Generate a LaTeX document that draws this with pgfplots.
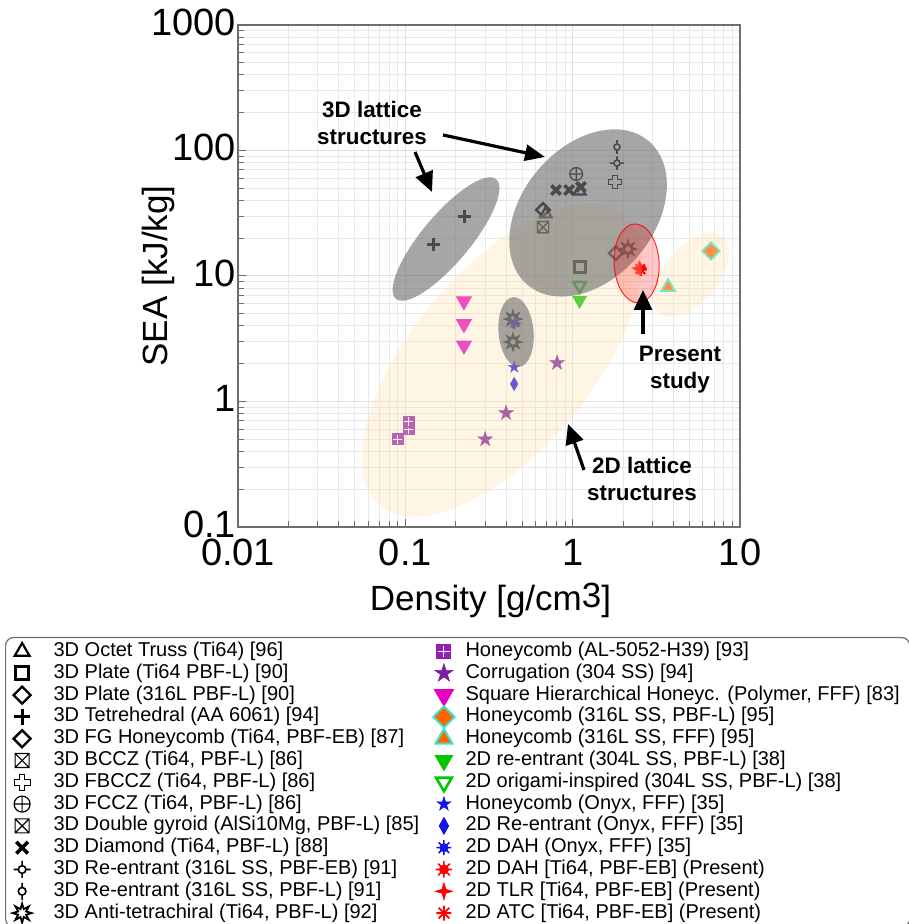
\documentclass[border=0pt]{standalone}
\usepackage{pgfplots}
\pgfplotsset{compat=1.18}
\usepackage{fontspec}
\setmainfont{Liberation Sans}
\usetikzlibrary{arrows.meta,plotmarks}

\definecolor{purpleA}{RGB}{150,30,180}
\definecolor{corrP}{RGB}{125,30,160}
\definecolor{magC}{RGB}{230,0,200}
\definecolor{orangeC}{RGB}{255,102,0}
\definecolor{turqC}{RGB}{64,224,208}
\definecolor{greenC}{RGB}{0,200,0}
\definecolor{blueC}{RGB}{20,20,230}
\definecolor{redC}{RGB}{255,0,0}
\definecolor{beigeC}{RGB}{255,225,180}
\definecolor{ellGray}{RGB}{116,116,116}
\definecolor{frameC}{RGB}{110,110,110}

\newcommand{\mpt}[2]{\pgfqpoint{#1\pgfplotmarksize}{#2\pgfplotmarksize}}

\pgfdeclareplotmark{boxx}{%
  \pgfpathmoveto{\mpt{-1}{-1}}\pgfpathlineto{\mpt{1}{-1}}\pgfpathlineto{\mpt{1}{1}}\pgfpathlineto{\mpt{-1}{1}}\pgfpathclose
  \pgfpathmoveto{\mpt{-1}{-1}}\pgfpathlineto{\mpt{1}{1}}%
  \pgfpathmoveto{\mpt{-1}{1}}\pgfpathlineto{\mpt{1}{-1}}%
  \pgfusepathqstroke}
\pgfdeclareplotmark{crossout}{%
  \pgfpathmoveto{\mpt{-0.35}{1}}\pgfpathlineto{\mpt{0.35}{1}}\pgfpathlineto{\mpt{0.35}{0.35}}%
  \pgfpathlineto{\mpt{1}{0.35}}\pgfpathlineto{\mpt{1}{-0.35}}\pgfpathlineto{\mpt{0.35}{-0.35}}%
  \pgfpathlineto{\mpt{0.35}{-1}}\pgfpathlineto{\mpt{-0.35}{-1}}\pgfpathlineto{\mpt{-0.35}{-0.35}}%
  \pgfpathlineto{\mpt{-1}{-0.35}}\pgfpathlineto{\mpt{-1}{0.35}}\pgfpathlineto{\mpt{-0.35}{0.35}}\pgfpathclose
  \pgfusepathqstroke}
\pgfdeclareplotmark{reEB}{%
  \pgfpathellipse{\pgfpointorigin}{\mpt{0.45}{0}}{\mpt{0}{0.45}}%
  \pgfpathmoveto{\mpt{0.45}{0}}\pgfpathlineto{\mpt{1}{0}}%
  \pgfpathmoveto{\mpt{-0.45}{0}}\pgfpathlineto{\mpt{-1}{0}}%
  \pgfpathmoveto{\mpt{0}{0.45}}\pgfpathlineto{\mpt{0}{1}}%
  \pgfpathmoveto{\mpt{0}{-0.45}}\pgfpathlineto{\mpt{0}{-1}}%
  \pgfusepathqstroke}
\pgfdeclareplotmark{reL}{%
  \pgfpathellipse{\pgfpointorigin}{\mpt{0.45}{0}}{\mpt{0}{0.45}}%
  \pgfpathmoveto{\mpt{0}{0.45}}\pgfpathlineto{\mpt{0}{1}}%
  \pgfpathmoveto{\mpt{0}{-0.45}}\pgfpathlineto{\mpt{0}{-1}}%
  \pgfusepathqstroke}
\pgfdeclareplotmark{burst8}{%
  \pgfpathmoveto{\mpt{1}{0}}\pgfpathlineto{\mpt{0.4157}{0.1722}}%
  \pgfpathlineto{\mpt{0.7071}{0.7071}}\pgfpathlineto{\mpt{0.1722}{0.4157}}%
  \pgfpathlineto{\mpt{0}{1}}\pgfpathlineto{\mpt{-0.1722}{0.4157}}%
  \pgfpathlineto{\mpt{-0.7071}{0.7071}}\pgfpathlineto{\mpt{-0.4157}{0.1722}}%
  \pgfpathlineto{\mpt{-1}{0}}\pgfpathlineto{\mpt{-0.4157}{-0.1722}}%
  \pgfpathlineto{\mpt{-0.7071}{-0.7071}}\pgfpathlineto{\mpt{-0.1722}{-0.4157}}%
  \pgfpathlineto{\mpt{0}{-1}}\pgfpathlineto{\mpt{0.1722}{-0.4157}}%
  \pgfpathlineto{\mpt{0.7071}{-0.7071}}\pgfpathlineto{\mpt{0.4157}{-0.1722}}\pgfpathclose
  \pgfusepathqstroke}
\pgfdeclareplotmark{spiky}{%
  \pgfpathellipse{\pgfpointorigin}{\mpt{0.5}{0}}{\mpt{0}{0.5}}\pgfusepathqfillstroke
  \pgfpathmoveto{\mpt{-1}{0}}\pgfpathlineto{\mpt{1}{0}}%
  \pgfpathmoveto{\mpt{0}{-1}}\pgfpathlineto{\mpt{0}{1}}%
  \pgfpathmoveto{\mpt{-0.7071}{-0.7071}}\pgfpathlineto{\mpt{0.7071}{0.7071}}%
  \pgfpathmoveto{\mpt{-0.7071}{0.7071}}\pgfpathlineto{\mpt{0.7071}{-0.7071}}%
  \pgfusepathqstroke}
\pgfdeclareplotmark{ast8}{%
  \pgfpathellipse{\pgfpointorigin}{\mpt{0.25}{0}}{\mpt{0}{0.25}}\pgfusepathqfillstroke
  \pgfpathmoveto{\mpt{-1}{0}}\pgfpathlineto{\mpt{1}{0}}%
  \pgfpathmoveto{\mpt{0}{-1}}\pgfpathlineto{\mpt{0}{1}}%
  \pgfpathmoveto{\mpt{-0.7071}{-0.7071}}\pgfpathlineto{\mpt{0.7071}{0.7071}}%
  \pgfpathmoveto{\mpt{-0.7071}{0.7071}}\pgfpathlineto{\mpt{0.7071}{-0.7071}}%
  \pgfusepathqstroke}
\pgfdeclareplotmark{star4}{%
  \pgfpathmoveto{\mpt{1}{0}}\pgfpathlineto{\mpt{0.22}{0.22}}\pgfpathlineto{\mpt{0}{1}}%
  \pgfpathlineto{\mpt{-0.22}{0.22}}\pgfpathlineto{\mpt{-1}{0}}\pgfpathlineto{\mpt{-0.22}{-0.22}}%
  \pgfpathlineto{\mpt{0}{-1}}\pgfpathlineto{\mpt{0.22}{-0.22}}\pgfpathclose
  \pgfusepathqfillstroke}
\pgfdeclareplotmark{fstar}{%
  \pgfpathmoveto{\mpt{0}{1}}\pgfpathlineto{\mpt{-0.2245}{0.309}}%
  \pgfpathlineto{\mpt{-0.9511}{0.309}}\pgfpathlineto{\mpt{-0.3633}{-0.118}}%
  \pgfpathlineto{\mpt{-0.5878}{-0.809}}\pgfpathlineto{\mpt{0}{-0.382}}%
  \pgfpathlineto{\mpt{0.5878}{-0.809}}\pgfpathlineto{\mpt{0.3633}{-0.118}}%
  \pgfpathlineto{\mpt{0.9511}{0.309}}\pgfpathlineto{\mpt{0.2245}{0.309}}\pgfpathclose
  \pgfusepathqfillstroke}
\pgfdeclareplotmark{gridsq}{%
  \pgfpathmoveto{\mpt{-1}{-1}}\pgfpathlineto{\mpt{1}{-1}}\pgfpathlineto{\mpt{1}{1}}\pgfpathlineto{\mpt{-1}{1}}\pgfpathclose
  \pgfusepathqfillstroke
  \pgfscope
  \pgfsetstrokecolor{white}\pgfsetlinewidth{0.45pt}%
  \pgfpathmoveto{\mpt{0}{-0.8}}\pgfpathlineto{\mpt{0}{0.8}}%
  \pgfpathmoveto{\mpt{-0.8}{0}}\pgfpathlineto{\mpt{0.8}{0}}%
  \pgfusepathqstroke
  \endpgfscope}

\pgfplotsset{
  mk/.style={only marks, mark options={sharp corners, solid}},
  sOct/.style={mk, mark=triangle, mark size=3.4pt, color=black, mark options={line width=1.1pt}},
  sPlTi/.style={mk, mark=square, mark size=2.6pt, color=black, mark options={line width=1.5pt}},
  sPl316/.style={mk, mark=square, mark size=2.4pt, color=black, mark options={rotate=45, line width=1.2pt}},
  sTet/.style={mk, mark=+, mark size=3.3pt, color=black, mark options={line width=1.6pt}},
  sFG/.style={mk, mark=square, mark size=2.4pt, color=black, mark options={rotate=45, line width=1.2pt}},
  sBCCZ/.style={mk, mark=boxx, mark size=2.8pt, color=black, mark options={line width=0.6pt}},
  sFBCCZ/.style={mk, mark=crossout, mark size=3.2pt, color=black, mark options={line width=0.5pt}},
  sFCCZ/.style={mk, mark=oplus, mark size=3.2pt, color=black, mark options={line width=0.6pt}},
  sDG/.style={mk, mark=boxx, mark size=2.8pt, color=black, mark options={line width=0.6pt}},
  sDia/.style={mk, mark=x, mark size=3.3pt, color=black, mark options={line width=1.8pt}},
  sREB/.style={mk, mark=reEB, mark size=3.4pt, color=black, mark options={line width=0.8pt}},
  sRL/.style={mk, mark=reL, mark size=3.4pt, color=black, mark options={line width=0.8pt}},
  sAT/.style={mk, mark=burst8, mark size=3.8pt, color=black, mark options={line width=0.9pt}},
  sHAL/.style={mk, mark=gridsq, mark size=2.8pt, color=purpleA, mark options={fill=purpleA, line width=0.5pt}},
  sCor/.style={mk, mark=fstar, mark size=3.8pt, color=corrP, mark options={fill=corrP, line width=0.3pt}},
  sSq/.style={mk, mark=triangle*, mark size=4.3pt, color=magC, mark options={fill=magC, rotate=180}},
  sH316P/.style={mk, mark=square*, mark size=3pt, color=turqC, mark options={fill=orangeC, draw=turqC, rotate=45, line width=1pt}},
  sH316F/.style={mk, mark=triangle*, mark size=3.9pt, color=turqC, mark options={fill=orangeC, draw=turqC, line width=1pt}},
  sRe2D/.style={mk, mark=triangle*, mark size=3.9pt, color=greenC, mark options={fill=greenC, rotate=180}},
  sOri/.style={mk, mark=triangle, mark size=3.6pt, color=greenC, mark options={rotate=180, line width=1.3pt}},
  sHOn/.style={mk, mark=fstar, mark size=2.9pt, color=blueC, mark options={fill=blueC, line width=0.3pt}},
  sReOn/.style={mk, mark=diamond*, mark size=3.2pt, color=blueC, mark options={fill=blueC, xscale=0.75}},
  sDAHOn/.style={mk, mark=spiky, mark size=3pt, color=blueC, mark options={fill=blueC, line width=0.8pt}},
  sDAH/.style={mk, mark=spiky, mark size=3.3pt, color=redC, mark options={fill=redC, line width=0.8pt}},
  sTLR/.style={mk, mark=star4, mark size=3.5pt, color=redC, mark options={fill=redC, line width=0.3pt}},
  sATC/.style={mk, mark=ast8, mark size=3pt, color=redC, mark options={fill=redC, line width=0.9pt}},
}

\begin{document}
\begin{tikzpicture}
\path[use as bounding box] (0,0) rectangle (454pt,462pt);
\begin{axis}[
  at={(119pt,198.5pt)}, anchor=south west,
  scale only axis, width=251pt, height=251pt,
  clip mode=individual,
  xmode=log, ymode=log,
  xmin=0.01, xmax=10, ymin=0.1, ymax=1000,
  xtick={0.01,0.1,1,10}, xticklabels={0.01,0.1,1,10},
  ytick={0.1,1,10,100,1000}, yticklabels={0.1,1,10,100,1000},
  minor xtick={0.02,0.03,0.04,0.05,0.06,0.07,0.08,0.09,0.2,0.3,0.4,0.5,0.6,0.7,0.8,0.9,2,3,4,5,6,7,8,9},
  minor ytick={0.2,0.3,0.4,0.5,0.6,0.7,0.8,0.9,2,3,4,5,6,7,8,9,20,30,40,50,60,70,80,90,200,300,400,500,600,700,800,900},
  grid=both,
  major grid style={draw={rgb,255:red,222;green,222;blue,222}, line width=0.5pt},
  minor grid style={draw={rgb,255:red,232;green,232;blue,232}, line width=0.5pt},
  tick pos=left, tick align=inside,
  major tick length=4pt, minor tick length=3pt,
  every tick/.style={frameC, line width=0.5pt},
  axis line style={frameC, line width=0.7pt},
  tick label style={font=\fontsize{19}{19}\selectfont},
  yticklabel style={xshift=2.5pt, yshift=1.5pt},
  xticklabel style={yshift=-2.5pt},
  label style={font=\fontsize{17.5}{20}\selectfont},
  xlabel={Density [g/cm\raisebox{1.5pt}{3}]},
  ylabel={SEA [kJ/kg]},
  xlabel style={at={(axis description cs:0.503,-0.1454)}, anchor=center},
  ylabel style={at={(axis description cs:-0.159,0.5)}, anchor=center},
  legend columns=2,
  legend cell align=left,
  legend image post style={/tikz/every mark/.append style={scale=1.25}},
  legend style={at={(axis description cs:-0.4641,-0.2191)}, anchor=north west,
    draw=frameC, rounded corners=4pt, line width=0.6pt,
    font=\fontsize{10}{10}\selectfont,
    inner xsep=3.5pt, inner ysep=1.5pt, row sep=0pt,
    nodes={inner xsep=1.5pt, inner ysep=0.45pt, text height=7.5pt, text depth=2.5pt},
    /tikz/column 1/.append style={column sep=9.5pt},
    /tikz/column 2/.append style={column sep=5.5pt},
    /tikz/column 3/.append style={column sep=4pt}},
]
% ---------- data ----------
\addplot[sOct, forget plot] coordinates {(1.10,47.5) (0.69,31.2)};
\addplot[sPlTi, forget plot] coordinates {(1.107,11.8)};
\addplot[sPl316, forget plot] coordinates {(1.81,15.2)};
\addplot[sTet, forget plot] coordinates {(0.148,17.9) (0.225,29.7)};
\addplot[sFG, forget plot] coordinates {(0.665,33.6)};
\addplot[sBCCZ, forget plot] coordinates {(0.665,24.5)};
\addplot[sFBCCZ, forget plot] coordinates {(1.79,56.1)};
\addplot[sFCCZ, forget plot] coordinates {(1.05,65)};
\addplot[sDG, forget plot] coordinates {(0.665,24.5)};
\addplot[sDia, forget plot] coordinates {(0.796,48.4) (0.952,48.4) (1.12,51.2)};
\addplot[sREB, forget plot] coordinates {(1.84,79.4)};
\addplot[sRL, forget plot] coordinates {(1.84,106.6)};
\addplot[sAT, forget plot] coordinates {(0.44,4.54) (0.44,2.98) (2.14,16.4)};
\addplot[sHAL, forget plot] coordinates {(0.0903,0.50) (0.105,0.60) (0.105,0.69)};
\addplot[sCor, forget plot] coordinates {(0.807,2.03) (0.40,0.81) (0.30,0.50)};
\addplot[sSq, forget plot] coordinates {(0.224,6.3) (0.224,4.15) (0.224,2.8)};
\addplot[sH316P, forget plot] coordinates {(6.71,15.8)};
\addplot[sH316F, forget plot] coordinates {(3.72,8.17)};
\addplot[sRe2D, forget plot] coordinates {(1.10,6.4)};
\addplot[sOri, forget plot] coordinates {(1.10,8.4)};
\addplot[sHOn, forget plot] coordinates {(0.447,1.88)};
\addplot[sReOn, forget plot] coordinates {(0.447,1.38)};
\addplot[sDAHOn, forget plot] coordinates {(0.45,4.22)};
\addplot[sDAH, forget plot] coordinates {(2.53,11.4)};
\addplot[sTLR, forget plot] coordinates {(2.50,11.6)};
\addplot[sATC, forget plot] coordinates {(2.56,11.2)};
% ---------- regions ----------
\fill[beigeC, opacity=0.35, rotate around={50:(axis cs:0.378,2.14)}] (axis cs:0.378,2.14) ellipse [x radius=95pt, y radius=45pt];
\fill[beigeC, opacity=0.35, rotate around={50:(axis cs:5.10,10.2)}] (axis cs:5.10,10.2) ellipse [x radius=25pt, y radius=13.5pt];
\fill[ellGray, opacity=0.64, rotate around={50:(axis cs:0.175,19.7)}] (axis cs:0.175,19.7) ellipse [x radius=39pt, y radius=12pt];
\fill[ellGray, opacity=0.64, rotate around={50:(axis cs:1.236,31.8)}] (axis cs:1.236,31.8) ellipse [x radius=47pt, y radius=33pt];
\fill[ellGray, opacity=0.64, rotate around={95:(axis cs:0.459,3.58)}] (axis cs:0.459,3.58) ellipse [x radius=17.5pt, y radius=8.75pt];
\filldraw[fill=redC, fill opacity=0.22, draw=redC, draw opacity=0.8, line width=0.5pt, rotate around={93:(axis cs:2.41,12.6)}] (axis cs:2.41,12.6) ellipse [x radius=19.75pt, y radius=11.25pt];
% ---------- legend (interleaved: left column, right column) ----------
\addlegendimage{sOct}\addlegendentry{3D Octet Truss (Ti64) [96]}
\addlegendimage{sHAL}\addlegendentry{Honeycomb (AL-5052-H39) [93]}
\addlegendimage{sPlTi}\addlegendentry{3D Plate (Ti64 PBF-L) [90]}
\addlegendimage{sCor}\addlegendentry{Corrugation (304 SS) [94]}
\addlegendimage{sPl316}\addlegendentry{3D Plate (316L PBF-L) [90]}
\addlegendimage{sSq}\addlegendentry{Square Hierarchical Honeyc. (Polymer, FFF) [83]}
\addlegendimage{sTet}\addlegendentry{3D Tetrehedral (AA 6061) [94]}
\addlegendimage{sH316P}\addlegendentry{Honeycomb (316L SS, PBF-L) [95]}
\addlegendimage{sFG}\addlegendentry{3D FG Honeycomb (Ti64, PBF-EB) [87]}
\addlegendimage{sH316F}\addlegendentry{Honeycomb (316L SS, FFF) [95]}
\addlegendimage{sBCCZ}\addlegendentry{3D BCCZ (Ti64, PBF-L) [86]}
\addlegendimage{sRe2D}\addlegendentry{2D re-entrant (304L SS, PBF-L) [38]}
\addlegendimage{sFBCCZ}\addlegendentry{3D FBCCZ (Ti64, PBF-L) [86]}
\addlegendimage{sOri}\addlegendentry{2D origami-inspired (304L SS, PBF-L) [38]}
\addlegendimage{sFCCZ}\addlegendentry{3D FCCZ (Ti64, PBF-L) [86]}
\addlegendimage{sHOn}\addlegendentry{Honeycomb (Onyx, FFF) [35]}
\addlegendimage{sDG}\addlegendentry{3D Double gyroid (AlSi10Mg, PBF-L) [85]}
\addlegendimage{sReOn}\addlegendentry{2D Re-entrant (Onyx, FFF) [35]}
\addlegendimage{sDia}\addlegendentry{3D Diamond (Ti64, PBF-L) [88]}
\addlegendimage{sDAHOn}\addlegendentry{2D DAH (Onyx, FFF) [35]}
\addlegendimage{sREB}\addlegendentry{3D Re-entrant (316L SS, PBF-EB) [91]}
\addlegendimage{sDAH}\addlegendentry{2D DAH [Ti64, PBF-EB] (Present)}
\addlegendimage{sRL}\addlegendentry{3D Re-entrant (316L SS, PBF-L) [91]}
\addlegendimage{sTLR}\addlegendentry{2D TLR [Ti64, PBF-EB] (Present)}
\addlegendimage{sAT}\addlegendentry{3D Anti-tetrachiral (Ti64, PBF-L) [92]}
\addlegendimage{sATC}\addlegendentry{2D ATC [Ti64, PBF-EB] (Present)}
\end{axis}
% ---------- annotations ----------
\node[font=\bfseries\fontsize{11.2}{13.5}\selectfont, align=center] at (186pt,400.25pt) {3D lattice\\structures};
\node[font=\bfseries\fontsize{11.2}{13.5}\selectfont, align=center] at (340pt,277pt) {Present\\study};
\node[font=\bfseries\fontsize{11.2}{13.5}\selectfont, align=center] at (321pt,222.5pt) {2D lattice\\structures};
\draw[line width=1.6pt, -{Triangle[length=10pt,width=9pt]}] (207.5pt,386pt) -- (216pt,366pt);
\draw[line width=1.6pt, -{Triangle[length=10pt,width=8pt]}] (221.5pt,394.5pt) -- (272.5pt,383.5pt);
\draw[line width=1.6pt, -{Triangle[length=10pt,width=9pt]}] (321.5pt,295pt) -- (321.5pt,317pt);
\draw[line width=1.6pt, -{Triangle[length=10pt,width=9pt]}] (292pt,227pt) -- (284pt,250pt);
\end{tikzpicture}
\end{document}
